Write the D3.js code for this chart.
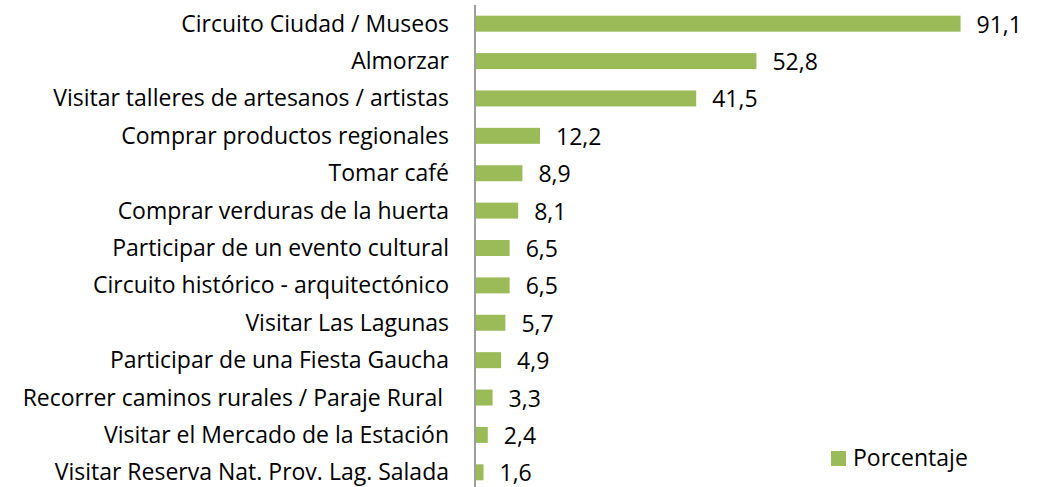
<!DOCTYPE html>
<meta charset="utf-8">
<head>
  <script src="https://d3js.org/d3.v7.min.js"></script>
  <style>
    body { margin: 0; background: #fff; font-family: 'Open Sans', sans-serif; }
  </style>
</head>
<body>
  <div id="my_dataviz"></div>
<script>
  // categories, top to bottom
  const categories = [
    "Circuito Ciudad / Museos",
    "Almorzar",
    "Visitar talleres de artesanos / artistas",
    "Comprar productos regionales",
    "Tomar café",
    "Comprar verduras de la huerta",
    "Participar de un evento cultural",
    "Circuito histórico - arquitectónico",
    "Visitar Las Lagunas",
    "Participar de una Fiesta Gaucha",
    "Recorrer caminos rurales / Paraje Rural ",
    "Visitar el Mercado de la Estación",
    "Visitar Reserva Nat. Prov. Lag. Salada"
  ]
  const porcentaje = [91.1, 52.8, 41.5, 12.2, 8.9, 8.1, 6.5, 6.5, 5.7, 4.9, 3.3, 2.4, 1.6]
  const series_name = "Porcentaje"

  const W = 1047, H = 487
  const green = "#9BBB59"
  const fs = "23px"

  var svg = d3.select("#my_dataviz")
    .append("svg")
    .attr("width", W)
    .attr("height", H)
    .style("display", "block")

  var x = d3.scaleLinear()
    .domain([0, 100])
    .range([475, 1008])

  var y = d3.scaleBand()
    .domain(categories)
    .range([5, 491])
    .paddingInner(0.572)
    .paddingOuter(0.286)

  // bars
  svg.append("g")
    .selectAll("rect")
    .data(d3.zip(categories, porcentaje))
    .enter()
    .append("rect")
    .attr("x", x(0) + 1)
    .attr("y", d => y(d[0]))
    .attr("width", d => x(d[1]) - x(0) - 1)
    .attr("height", y.bandwidth())
    .attr("fill", green)

  // value labels
  svg.append("g")
    .selectAll("text")
    .data(d3.zip(categories, porcentaje))
    .enter()
    .append("text")
    .attr("x", d => x(d[1]) + 16)
    .attr("y", d => y(d[0]) + y.bandwidth() / 2 + 9)
    .attr("font-size", fs)
    .attr("fill", "#000")
    .text(d => d3.format(".1f")(d[1]).replace(".", ","))

  // category labels
  svg.append("g")
    .selectAll("text")
    .data(categories)
    .enter()
    .append("text")
    .attr("x", 449)
    .attr("y", d => y(d) + y.bandwidth() / 2 + 8)
    .attr("text-anchor", "end")
    .attr("font-size", fs)
    .attr("fill", "#000")
    .style("white-space", "pre")
    .attr("xml:space", "preserve")
    .text(d => d)

  // vertical axis line
  svg.append("line")
    .attr("x1", x(0))
    .attr("x2", x(0))
    .attr("y1", 5)
    .attr("y2", 491)
    .attr("stroke", "#868686")
    .attr("stroke-width", 1.6)

  // legend
  var legend = svg.append("g")
  legend.append("rect")
    .attr("x", 831)
    .attr("y", 451)
    .attr("width", 15)
    .attr("height", 15)
    .attr("fill", green)
  legend.append("text")
    .attr("x", 853)
    .attr("y", 466)
    .attr("font-size", fs)
    .attr("fill", "#000")
    .text(series_name)
</script>
</body>
